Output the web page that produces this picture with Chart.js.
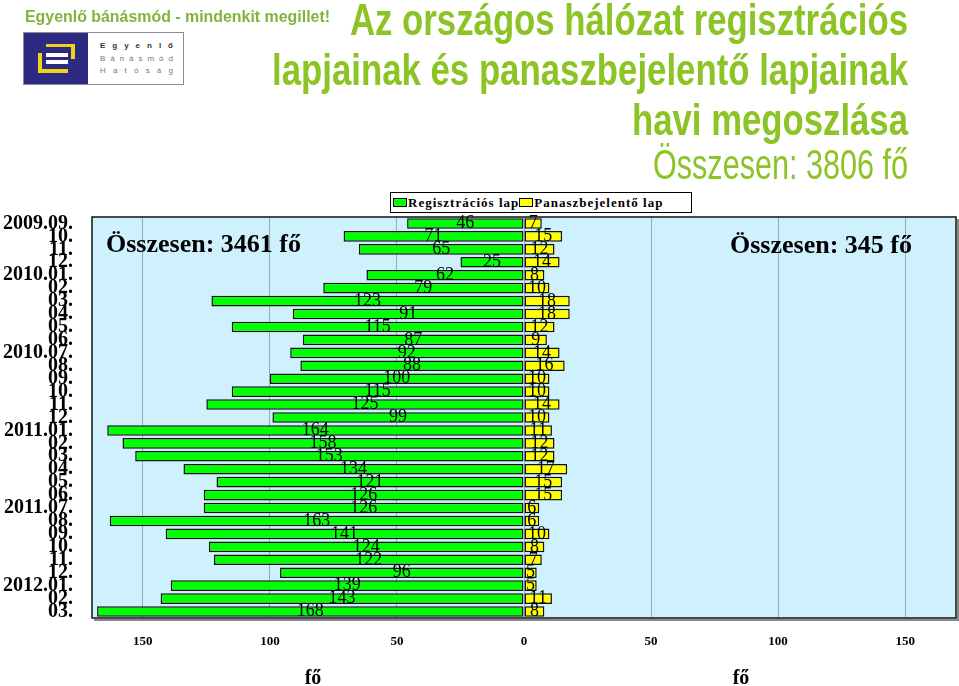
<!DOCTYPE html>
<html>
<head>
<meta charset="utf-8">
<script src="https://cdn.jsdelivr.net/npm/chart.js@4.4.0/dist/chart.umd.min.js"></script>
<style>
    body { margin: 0; background: #fff; width: 959px; height: 686px; overflow: hidden; position: relative; font-family: "Liberation Sans", Arial, sans-serif; }
    #chart { position: absolute; left: 0; top: 0; }
    .fit { position: absolute; white-space: nowrap; line-height: 1; }
    .fit span { display: inline-block; transform-origin: left top; }
    .title { color: #8cc425; font-weight: bold; font-size: 44px; }
    #legend { position: absolute; left: 390px; top: 192px; width: 298px; height: 19px; border: 1px solid #000; background: #fff;
              font: bold 13px "Liberation Serif", "Times New Roman", serif; letter-spacing: 1px; display: flex; align-items: center; padding-left: 2px; box-sizing: content-box; }
    #legend i { display: inline-block; width: 12px; height: 7px; border: 1px solid #000; margin-right: 1px; }
    #logo { position: absolute; left: 23px; top: 32px; width: 159px; height: 51px; border: 1px solid #8a8a9a; background: #fff; }
    #logo .blk { position: absolute; left: 0; top: 0; width: 64px; height: 51px; background: #2d2a82; }
    #logo .p { position: absolute; }
    #logo .t { position: absolute; left: 76px; width: 73px; display: flex; justify-content: space-between; font-size: 8px; line-height: 8px; }
</style>
</head>
<body>
<canvas id="chart" width="959" height="686"></canvas>

<div class="fit" style="left:25px;top:9px;font-size:16px;font-weight:bold;color:#82b43c" data-w="305"><span>Egyenlő bánásmód - mindenkit megillet!</span></div>

<div id="logo">
    <div class="blk"></div>
    <div class="p" style="left:22px;top:11px;width:29px;height:3px;background:#f2d21b"></div>
    <div class="p" style="left:47px;top:11px;width:4px;height:15px;background:#f2d21b"></div>
    <div class="p" style="left:14px;top:20px;width:4px;height:20px;background:#f2d21b"></div>
    <div class="p" style="left:14px;top:36px;width:30px;height:4px;background:#f2d21b"></div>
    <div class="p" style="left:22px;top:20px;width:22px;height:4px;background:#fff"></div>
    <div class="p" style="left:22px;top:27px;width:22px;height:4px;background:#fff"></div>
    <div class="t" id="lg1" style="top:9px;font-weight:bold;color:#333"></div>
    <div class="t" id="lg2" style="top:22px;color:#777"></div>
    <div class="t" id="lg3" style="top:34px;color:#777"></div>
</div>

<div class="fit title" style="left:350px;top:-2px" data-w="558"><span>Az országos hálózat regisztrációs</span></div>
<div class="fit title" style="left:272px;top:48px" data-w="636"><span>lapjainak és panaszbejelentő lapjainak</span></div>
<div class="fit title" style="left:632px;top:98px" data-w="276"><span>havi megoszlása</span></div>
<div class="fit" style="left:653px;top:144px;font-size:42px;color:#8cc425" data-w="255"><span>Összesen: 3806 fő</span></div>

<div id="legend"></div>

<script>
// havi adatok: regisztrációs lapok és panaszbejelentő lapok
const months = ['2009.09.', '10.', '11.', '12.', '2010.01.', '02.', '03.', '04.', '05.', '06.',
    '2010.07.', '08.', '09.', '10.', '11.', '12.', '2011.01.', '02.', '03.', '04.', '05.', '06.',
    '2011.07.', '08.', '09.', '10.', '11.', '12.', '2012.01.', '02.', '03.'];
const regisztracios = [46, 71, 65, 25, 62, 79, 123, 91, 115, 87, 92, 88, 100, 115, 125, 99,
    164, 158, 153, 134, 121, 126, 126, 163, 141, 124, 122, 96, 139, 143, 168];
const panasz = [7, 15, 12, 14, 8, 10, 18, 18, 12, 9, 14, 16, 10, 10, 14, 10,
    11, 12, 12, 17, 15, 15, 6, 6, 10, 8, 7, 5, 5, 11, 8];
const seriesNames = ['Regisztrációs lap', 'Panaszbejelentő lap'];
const seriesColors = ['#00ff00', '#ffff00'];
const xTicks = [-150, -100, -50, 0, 50, 100, 150];
const totalLeft = 'Összesen: 3461 fő';
const totalRight = 'Összesen: 345 fő';
const unitLabel = 'fő';

// fejléc szövegek szélességre igazítása
document.querySelectorAll('.fit').forEach(el => {
    const s = el.firstElementChild;
    const w = s.getBoundingClientRect().width;
    s.style.transform = `scaleX(${el.dataset.w / w})`;
});

function spread(id, word) {
    const el = document.getElementById(id);
    [...word].forEach(ch => {
        const s = document.createElement('span');
        s.textContent = ch;
        el.appendChild(s);
    });
}
spread('lg1', 'Egyenlő');
spread('lg2', 'Bánásmód');
spread('lg3', 'Hatóság');

// jelmagyarázat
const legendEl = document.getElementById('legend');
seriesNames.forEach((name, i) => {
    const box = document.createElement('i');
    box.style.background = seriesColors[i];
    legendEl.appendChild(box);
    const t = document.createElement('span');
    t.textContent = name;
    legendEl.appendChild(t);
});

const serif = '"Liberation Serif", "Times New Roman", serif';

const plotDecor = {
    id: 'plotDecor',
    beforeDraw(chart) {
        const { ctx, chartArea: a } = chart;
        ctx.save();
        ctx.fillStyle = '#cff0fd';
        ctx.fillRect(a.left, a.top, a.right - a.left, a.bottom - a.top);
        ctx.restore();
    },
    afterDatasetsDraw(chart) {
        const { ctx } = chart;
        ctx.save();
        ctx.fillStyle = '#000';
        ctx.textAlign = 'center';
        ctx.textBaseline = 'middle';
        ctx.font = '18px ' + serif;
        chart.data.datasets.forEach((ds, di) => {
            chart.getDatasetMeta(di).data.forEach((bar, i) => {
                const { x, base, y } = bar.getProps(['x', 'base', 'y'], true);
                ctx.fillText(String(Math.abs(ds.data[i])), (x + base) / 2, y);
            });
        });
        ctx.restore();
    },
    afterDraw(chart) {
        const { ctx, chartArea: a } = chart;
        ctx.save();
        ctx.strokeStyle = '#888';
        ctx.lineWidth = 2;
        ctx.beginPath();
        ctx.moveTo(a.left + 2, a.bottom + 2);
        ctx.lineTo(a.right + 2, a.bottom + 2);
        ctx.lineTo(a.right + 2, a.top + 2);
        ctx.stroke();
        ctx.strokeStyle = '#111';
        ctx.lineWidth = 1.5;
        ctx.strokeRect(a.left, a.top, a.right - a.left, a.bottom - a.top);

        ctx.fillStyle = '#000';
        ctx.textBaseline = 'alphabetic';
        ctx.textAlign = 'left';
        ctx.font = 'bold 26px ' + serif;
        ctx.fillText(totalLeft, 106, 252);
        ctx.fillText(totalRight, 730, 253);
        ctx.textAlign = 'center';
        ctx.font = 'bold 20px ' + serif;
        ctx.fillText(unitLabel, 313, 684);
        ctx.fillText(unitLabel, 741, 684);
        ctx.restore();
    }
};

new Chart(document.getElementById('chart').getContext('2d'), {
    type: 'bar',
    data: {
        labels: months,
        datasets: [
            {
                label: seriesNames[0],
                data: regisztracios.map(v => -v),
                backgroundColor: seriesColors[0],
                borderColor: '#111',
                borderWidth: 1.5,
                borderSkipped: false,
                barPercentage: 0.82,
                categoryPercentage: 1
            },
            {
                label: seriesNames[1],
                data: panasz,
                backgroundColor: seriesColors[1],
                borderColor: '#111',
                borderWidth: 1.5,
                borderSkipped: false,
                barPercentage: 0.82,
                categoryPercentage: 1
            }
        ]
    },
    options: {
        indexAxis: 'y',
        responsive: false,
        animation: false,
        layout: { padding: { top: 217, right: 3, left: 0, bottom: 0 } },
        plugins: {
            legend: { display: false },
            tooltip: { enabled: false }
        },
        scales: {
            x: {
                stacked: true,
                min: -170,
                max: 170,
                afterBuildTicks: s => { s.ticks = xTicks.map(v => ({ value: v })); },
                afterFit: s => { s.height = 68; },
                grid: { color: '#8eaebd', lineWidth: 1, drawTicks: false },
                border: { display: false },
                ticks: {
                    padding: 16,
                    color: '#000',
                    font: { family: serif, weight: 'bold', size: 13 },
                    callback: v => Math.abs(v)
                }
            },
            y: {
                stacked: true,
                afterFit: s => { s.width = 92; },
                grid: { display: false, drawTicks: false },
                border: { display: false },
                ticks: {
                    padding: 19,
                    color: '#000',
                    autoSkip: false,
                    font: { family: serif, weight: 'bold', size: 20 }
                }
            }
        }
    },
    plugins: [plotDecor]
});
</script>
</body>
</html>
